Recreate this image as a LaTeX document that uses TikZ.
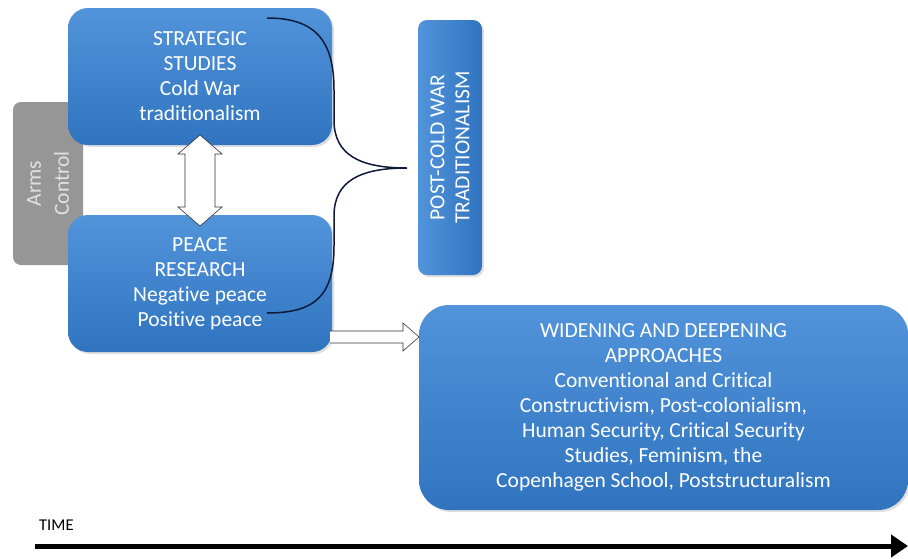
\documentclass[tikz,border=0pt]{standalone}
\usepackage{fontspec}
\setmainfont[Ligatures=NoCommon]{Carlito}
\usetikzlibrary{arrows.meta,shadows}
\definecolor{boxtop}{RGB}{82,148,218}
\definecolor{boxbot}{RGB}{48,116,192}
\definecolor{armsgray}{RGB}{150,150,150}
\definecolor{armstext}{RGB}{225,225,225}
\definecolor{bracecol}{RGB}{15,25,60}
\tikzset{
  bluebox/.style={rectangle, rounded corners=20pt, top color=boxtop, bottom color=boxbot,
    draw=none, text=white, align=center, font=\fontsize{21.5}{25}\selectfont,
    drop shadow={opacity=0.25, shadow xshift=2pt, shadow yshift=-2pt}},
  graybox/.style={rectangle, rounded corners=8pt, fill=armsgray, draw=none},
  hollowarrow/.style={draw=black!80, fill=white, line width=0.6pt, line join=miter},
}
\begin{document}
\begin{tikzpicture}[x=1pt,y=-1pt]
\useasboundingbox (0,0) rectangle (908,558);
% Arms control (behind)
\node[graybox, minimum width=70pt, minimum height=163pt] (arms) at (48,183.5) {};
\node[rotate=90, text=armstext, align=center, font=\fontsize{21.5}{28}\selectfont] (armstxt) at (arms.center) {Arms\\Control};
% main boxes
\node[bluebox, minimum width=264pt, minimum height=137pt] (ss) at (200,76.5)
  {STRATEGIC\\STUDIES\\Cold War\\traditionalism};
\node[bluebox, minimum width=264pt, minimum height=137pt] (pr) at (200,283.5)
  {PEACE\\RESEARCH\\Negative peace\\Positive peace};
\node[bluebox, rounded corners=9pt, minimum width=64pt, minimum height=255pt, left color=boxtop, right color=boxbot] (pcw) at (450,147.5) {};
\node[rotate=90, text=white, align=center, font=\fontsize{21.5}{25}\selectfont] (pcwtxt) at (pcw.center)
  {POST-COLD WAR\\TRADITIONALISM};
\node[bluebox, rounded corners=30pt, minimum width=489pt, minimum height=205pt] (wd) at (663.5,407.5)
  {WIDENING AND DEEPENING\\APPROACHES\\Conventional and Critical\\Constructivism, Post-colonialism,\\Human Security, Critical Security\\Studies, Feminism, the\\Copenhagen School, Poststructuralism};
% double arrow between boxes
\draw[hollowarrow] (200,135) -- (222,154) -- (215,154) -- (215,207) -- (222,207) -- (200,226)
  -- (178,207) -- (185,207) -- (185,154) -- (178,154) -- cycle;
% right arrow to widening
\draw[hollowarrow] (330,331) -- (403,331) -- (403,323) -- (419,337) -- (403,351) -- (403,343) -- (330,343);
% brace
\coordinate (btop) at (267,18);
\coordinate (bbot) at (267,313);
\coordinate (btip) at (407,168);
\draw[bracecol, line width=1.5pt]
  (btop) .. controls (315,18) and (334,40) .. (334,90)
  -- (334,120) .. controls (334,155) and (360,168) .. (btip)
  .. controls (360,168) and (334,181) .. (334,216)
  -- (334,246) .. controls (334,296) and (315,313) .. (bbot);
% time
\node[anchor=west, font=\fontsize{16.5}{18}\selectfont, inner sep=0pt] (time) at (39,525) {TIME};
\coordinate (tstart) at (35,546);
\coordinate (tend) at (908,546);
\draw[line width=5pt, -{Triangle[length=17pt,width=22pt]}] (tstart) -- (tend);
\end{tikzpicture}
\end{document}
